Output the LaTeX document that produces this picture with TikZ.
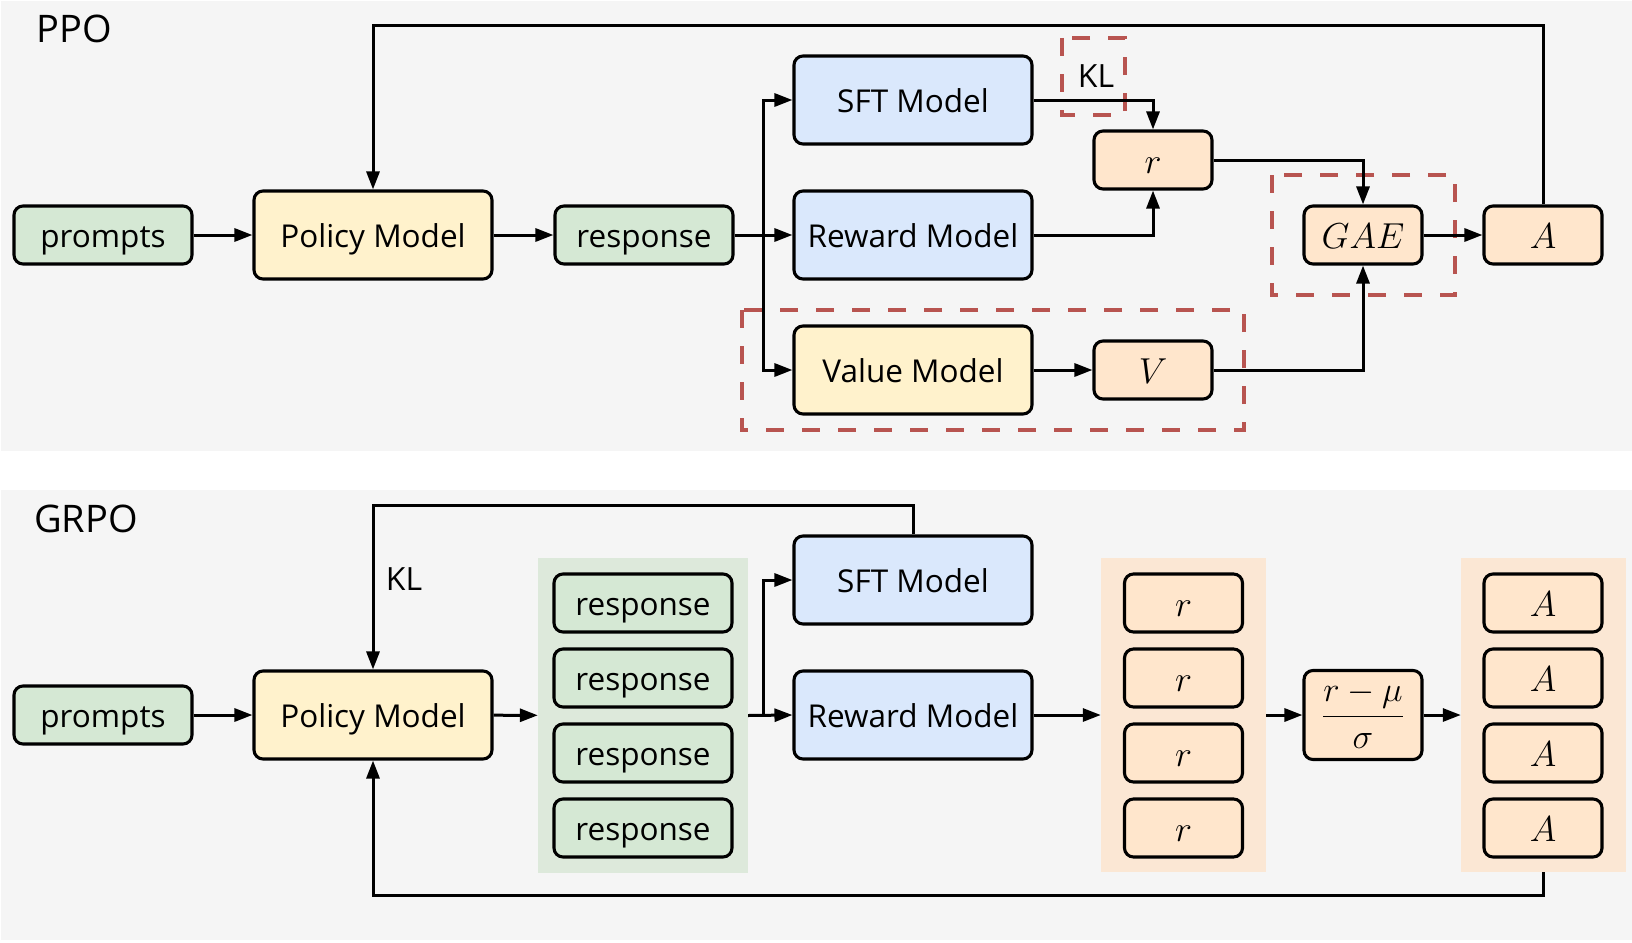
\documentclass[tikz,border=0pt]{standalone}
\usepackage{graphicx}
\usepackage{fontspec}
\setmainfont{Open Sans}
\usetikzlibrary{arrows.meta}
\definecolor{panelbg}{HTML}{F5F5F5}
\definecolor{gfill}{HTML}{D5E8D4}
\definecolor{yfill}{HTML}{FFF2CC}
\definecolor{bfill}{HTML}{DAE8FC}
\definecolor{ofill}{HTML}{FFE6CC}
\definecolor{ggrp}{HTML}{DDE9DB}
\definecolor{ogrp}{HTML}{FBE7D4}
\definecolor{redd}{HTML}{B85450}
\newcommand\lblfont{\fontsize{31.5}{36}\selectfont}
\newcommand\ttlfont{\fontsize{38}{44}\selectfont}
\newcommand\mth[1]{\scalebox{1.45}{\fontsize{24.88}{30}\selectfont$#1$}}
\tikzset{
  bx/.style={draw, rounded corners=9pt, line width=3.1pt, inner sep=0pt, font=\lblfont},
  tx/.style={text height=30pt, text depth=6pt},
  gbox/.style={bx, tx, fill=gfill, minimum width=178pt, minimum height=58pt},
  model/.style={bx, tx, minimum width=238pt, minimum height=88pt},
  obox/.style={bx, fill=ofill, minimum width=118pt, minimum height=58pt},
  mbox/.style={obox, text height=34pt, text depth=8pt},
  arr/.style={line width=3pt, -{Triangle[length=18pt,width=13pt]}},
  dbox/.style={draw=redd, line width=4.5pt, dash pattern=on 18pt off 18pt},
  grpbg/.style={inner sep=0pt, draw=none}
}
\begin{document}
\begin{tikzpicture}[x=1pt,y=-1pt]
\useasboundingbox (0,0) rectangle (1632,942);
\fill[white] (0,0) rectangle (1632,942);
\fill[panelbg] (1,1) rectangle (1632,451);
\fill[panelbg] (1,490) rectangle (1632,940);

% ---------------- PPO ----------------
\node[font=\ttlfont] (tppo) at (74,29) {PPO};
\node[gbox] (prompts) at (103,235) {prompts};
\node[model, fill=yfill] (policy) at (373,235) {Policy Model};
\node[gbox] (resp) at (644,235) {response};
\node[model, fill=bfill] (sft) at (913,100) {SFT Model};
\node[model, fill=bfill] (reward) at (913,235) {Reward Model};
\node[model, fill=yfill] (value) at (913,370) {Value Model};
\node[mbox] (r) at (1153,160) {\mth{r}};
\node[mbox] (V) at (1153,370) {\mth{V}};
\node[mbox] (gae) at (1363,235) {\mth{GAE}};
\node[mbox] (A) at (1543,235) {\mth{A}};
\node[font=\fontsize{32}{36}\selectfont] (kl) at (1096,76) {KL};

\draw[dbox] (1062,38) rectangle (1125,115);
\draw[dbox] (1272,175) rectangle (1455,295);
\draw[dbox] (742,310) rectangle (1244,430);

\coordinate (br) at (763,235);
\coordinate (top) at (373,26);
\draw[arr] (prompts) -- (policy);
\draw[arr] (policy) -- (resp);
\draw[arr] (resp) -- (reward);
\draw[arr] (br) |- (sft.west);
\draw[arr] (br) |- (value.west);
\draw[arr] (sft.east) -| (r.north);
\draw[arr] (reward.east) -| (r.south);
\draw[arr] (r.east) -| (gae.north);
\draw[arr] (value) -- (V);
\draw[arr] (V.east) -| (gae.south);
\draw[arr] (gae) -- (A);
\draw[arr] (A.north) |- (top) -- (policy.north);

% ---------------- GRPO ----------------
\node[font=\ttlfont] (tgrpo) at (86,519) {GRPO};
\node[grpbg, fill=ggrp, minimum width=210pt, minimum height=315pt] (g1) at (643,715.5) {};
\node[grpbg, fill=ogrp, minimum width=165pt, minimum height=314pt] (g2) at (1183.5,715) {};
\node[grpbg, fill=ogrp, minimum width=165pt, minimum height=314pt] (g3) at (1543.5,715) {};

\node[gbox] (p2) at (103,715) {prompts};
\node[model, fill=yfill] (policy2) at (373,715) {Policy Model};
\node[gbox] (re1) at (643,603) {response};
\node[gbox] (re2) at (643,678) {response};
\node[gbox] (re3) at (643,753) {response};
\node[gbox] (re4) at (643,828) {response};
\node[model, fill=bfill] (sft2) at (913,580) {SFT Model};
\node[model, fill=bfill] (reward2) at (913,715) {Reward Model};
\node[mbox] (r1) at (1183.5,603) {\mth{r}};
\node[mbox] (r2) at (1183.5,678) {\mth{r}};
\node[mbox] (r3) at (1183.5,753) {\mth{r}};
\node[mbox] (r4) at (1183.5,828) {\mth{r}};
\node[obox, minimum height=89pt] (frac) at (1363,715) {\scalebox{1.4}{\fontsize{24.88}{30}\selectfont$\displaystyle\frac{r-\mu}{\sigma}$}};
\node[mbox] (a1) at (1543,603) {\mth{A}};
\node[mbox] (a2) at (1543,678) {\mth{A}};
\node[mbox] (a3) at (1543,753) {\mth{A}};
\node[mbox] (a4) at (1543,828) {\mth{A}};
\node[font=\fontsize{32}{36}\selectfont] (kl2) at (404,579) {KL};

\coordinate (br2) at (763,715);
\coordinate (top2) at (373,505);
\coordinate (bot2) at (373,895);
\draw[arr] (p2) -- (policy2);
\draw[arr] (policy2) -- (g1);
\draw[arr] (g1.east) -- (reward2.west);
\draw[arr] (br2) |- (sft2.west);
\draw[arr] (reward2) -- (g2);
\draw[arr] (g2) -- (frac);
\draw[arr] (frac) -- (g3);
\draw[arr] (sft2.north) |- (top2) -- (policy2.north);
\draw[arr] (g3.south) |- (bot2) -- (policy2.south);
\end{tikzpicture}
\end{document}
